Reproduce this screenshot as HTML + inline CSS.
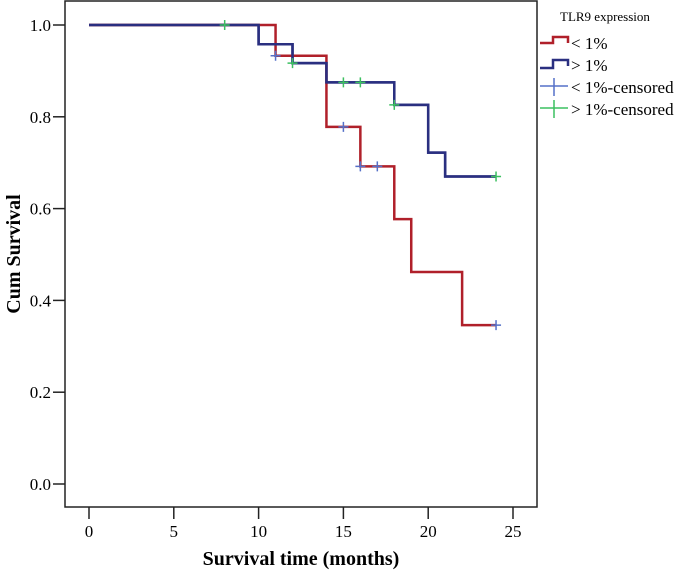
<!DOCTYPE html>
<html><head><meta charset="utf-8"><style>
body{margin:0;background:#fff;}
svg{display:block;font-family:"Liberation Serif",serif;}
</style></head><body>
<svg id="chart" width="685" height="574" viewBox="0 0 685 574">
<rect x="65" y="1" width="472" height="506" fill="none" stroke="#222" stroke-width="1.5"/>
<g id="axes"></g>
<g id="series"></g>
<text x="301" y="565" text-anchor="middle" font-size="20" font-weight="bold">Survival time (months)</text>
<text transform="translate(20,254) rotate(-90)" text-anchor="middle" font-size="20" font-weight="bold">Cum Survival</text>
<g>
<text x="560" y="21" font-size="13">TLR9 expression</text>
<path d="M540,43 H553 V37 H568 V43" fill="none" stroke="#b0202a" stroke-width="2.5"/>
<text x="571" y="49" font-size="17">&lt; 1%</text>
<path d="M540,68 H553 V60 H568 V66" fill="none" stroke="#2a2f80" stroke-width="2.5"/>
<text x="571" y="71" font-size="17">&gt; 1%</text>
<path d="M540,86 H568 M554,78 V96" stroke="#5570c8" stroke-width="1.5"/>
<text x="571" y="93" font-size="17">&lt; 1%-censored</text>
<path d="M540,108 H568 M554,100 V118" stroke="#3cc060" stroke-width="1.5"/>
<text x="571" y="115" font-size="17">&gt; 1%-censored</text>
</g>
</svg>
<script>
const xTicks=[0,5,10,15,20,25];
const yTicks=[0.0,0.2,0.4,0.6,0.8,1.0];
const lowTimes=[0,11,14,16,18,19,22,24];
const lowSurv=[1.0,0.933,0.778,0.692,0.577,0.462,0.346,0.346];
const lowCensT=[11,15,16,17,24];
const lowCensS=[0.933,0.778,0.692,0.692,0.346];
const highTimes=[0,10,12,14,18,20,21,24];
const highSurv=[1.0,0.958,0.917,0.875,0.826,0.722,0.670,0.670];
const highCensT=[8,12,15,16,18,24];
const highCensS=[1.0,0.917,0.875,0.875,0.826,0.670];
const NS="http://www.w3.org/2000/svg";
const X=v=>89+v*(513-89)/25;
const Y=v=>484-v*459;
function mk(tag,attrs,parent){const e=document.createElementNS(NS,tag);for(const k in attrs)e.setAttribute(k,attrs[k]);parent.appendChild(e);return e;}
const axes=document.getElementById('axes');
xTicks.forEach(t=>{
 const l=mk('line',{x1:X(t),x2:X(t),y1:507,y2:519,stroke:'#222','stroke-width':1.5},axes);
 
 
 const tx=mk('text',{x:X(t),y:537,'text-anchor':'middle','font-size':17},axes);
 
 
 tx.textContent=t;
});
yTicks.forEach(t=>{
 const l=mk('line',{x1:53,x2:65,y1:Y(t),y2:Y(t),stroke:'#222','stroke-width':1.5},axes);
 
 
 const tx=mk('text',{x:51,y:Y(t)+6,'text-anchor':'end','font-size':17},axes);
 
 
 tx.textContent=t.toFixed(1);
});
const ser=document.getElementById('series');
function step(ts,ss,color,name){
 let d='M'+X(ts[0])+','+Y(ss[0]);
 for(let i=1;i<ts.length;i++){d+=' H'+X(ts[i])+' V'+Y(ss[i]);}
 const p=mk('path',{d:d,fill:'none',stroke:color,'stroke-width':2.5},ser);
 
 
}
function cens(ts,ss,color,name){
 ts.forEach((t,i)=>{
  const p=mk('path',{d:`M${X(t)-5},${Y(ss[i])} h10 M${X(t)},${Y(ss[i])-5} v10`,stroke:color,'stroke-width':1.5},ser);
  
  
 });
}
step(highTimes,highSurv,'#2a2f80','line-high');
step(lowTimes,lowSurv,'#b0202a','line-low');
step(highTimes,highSurv,'#2a2f80','line-high-top');
cens(lowCensT,lowCensS,'#5570c8','censor-low');
cens(highCensT,highCensS,'#3cc060','censor-high');
</script>
</body></html>
